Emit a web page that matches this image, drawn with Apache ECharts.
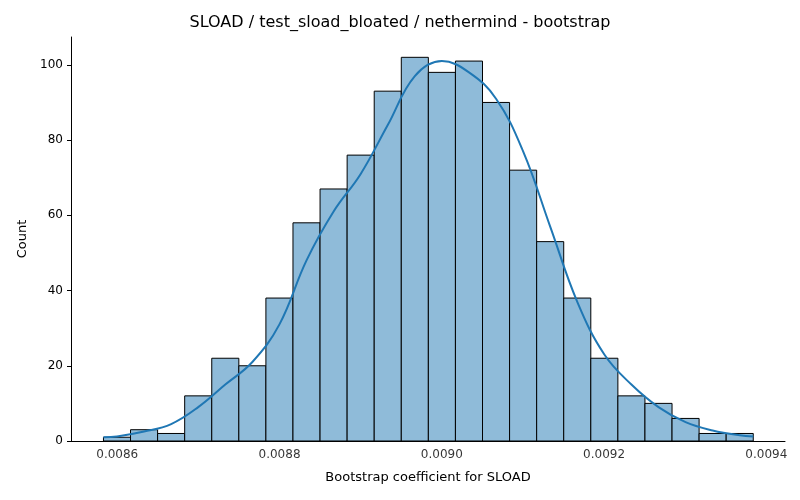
<!DOCTYPE html>
<html><head><meta charset="utf-8">
<script src="https://cdn.jsdelivr.net/npm/echarts@6/dist/echarts.min.js"></script>
<style>html,body{margin:0;padding:0;background:#fff}#c{width:800px;height:500px}</style>
</head><body><div id="c"></div>
<script>
const binStart = 0.008583;
const binWidth = 0.00003337;
const counts = [1,3,2,12,22,20,38,58,67,76,93,102,98,101,90,72,53,38,22,12,10,6,2,2];
const kde = [1.2,2.5,4.5,9,15,21,31,48,61,71,84,97,101,98,91,77,57,37,23,15,9,5,2.8,1.5];
const meanLine = 0.008988;
const xTicks = [0.0086,0.0088,0.0090,0.0092,0.0094];

const bars = counts.map((c,i)=>[binStart+i*binWidth, binStart+(i+1)*binWidth, c]);
const kdePts = kde.map((v,i)=>[binStart+(i+0.5)*binWidth, v]);
kdePts.unshift([binStart, 1]); kdePts.push([binStart+counts.length*binWidth, 1.2]);

const chart = echarts.init(document.getElementById('c'));
chart.setOption({
  animation:false,
  title:{text:'SLOAD / test_sload_bloated / nethermind - bootstrap',left:'center',top:10,
    textStyle:{fontFamily:'DejaVu Sans',fontSize:16,fontWeight:'normal',color:'#000'}},
  grid:{left:71,right:15,top:37,bottom:59},
  xAxis:{type:'value',min:0.008543,max:0.009423,
    name:'Bootstrap coefficient for SLOAD',nameLocation:'middle',nameGap:30,
    nameTextStyle:{fontFamily:'DejaVu Sans',fontSize:13,color:'#000'},
    axisLine:{lineStyle:{color:'#000'}},axisTick:{show:false},splitLine:{show:false},
    axisLabel:{show:false}},
  yAxis:{type:'value',min:0,max:107.4,interval:20,
    name:'Count',nameLocation:'middle',nameGap:40,
    nameTextStyle:{fontFamily:'DejaVu Sans',fontSize:13,color:'#000'},
    axisLine:{show:true,lineStyle:{color:'#000'}},axisTick:{show:true,length:4,lineStyle:{color:'#000'}},
    splitLine:{show:false},
    axisLabel:{fontFamily:'DejaVu Sans',fontSize:12,color:'#000',showMaxLabel:false,
      formatter:v=>v>105?'':v}},
  series:[
    {type:'custom',renderItem:(p,api)=>{
      const a=api.coord([api.value(0),api.value(2)]), b=api.coord([api.value(1),0]);
      return {type:'rect',shape:{x:a[0],y:a[1],width:b[0]-a[0],height:b[1]-a[1]},
        style:{fill:'#8fbbd9',stroke:'#000',lineWidth:1}};
    },data:bars,encode:{x:[0,1],y:2}},
    {type:'line',data:kdePts,smooth:0.4,symbol:'none',lineStyle:{color:'#1f77b4',width:2},
     markLine:{silent:true,symbol:'none',label:{show:false},
       lineStyle:{color:'#d62728',type:'dashed',width:1},data:[{xAxis:meanLine}]}},
    {type:'scatter',data:xTicks.map(v=>[v,0]),symbolSize:0,
     label:{show:true,position:'bottom',distance:8,formatter:p=>p.value[0].toFixed(4),
       fontFamily:'DejaVu Sans',fontSize:12,color:'#000'},
     markLine:{silent:true,symbol:'none',label:{show:false},animation:false,
       lineStyle:{color:'#000',type:'solid',width:1},
       data:xTicks.map(v=>[{coord:[v,0]},{coord:[v,-1.1]}])}}
  ]
});
</script></body></html>
